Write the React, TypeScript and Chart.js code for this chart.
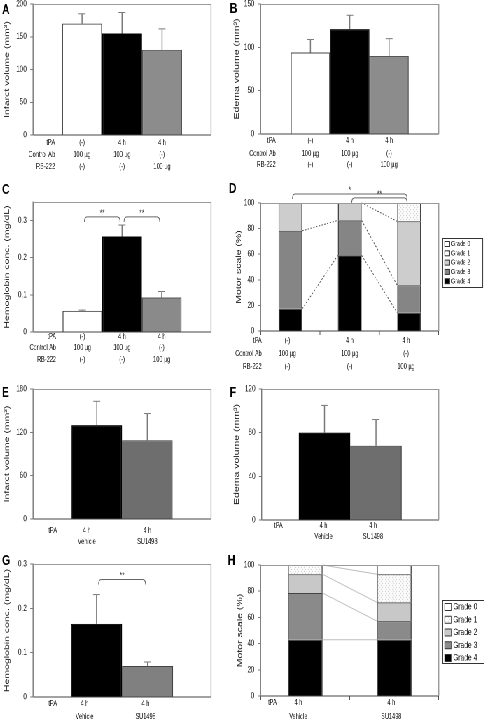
import React, { useEffect, useRef } from 'react';
import { Chart, registerables } from 'chart.js';

Chart.register(...registerables);

// The original figure is horizontally compressed; we lay it out wider and squeeze it.
const S = 0.7;
const FONT = "'Liberation Sans', Arial, Helvetica, sans-serif";
Chart.defaults.font.family = FONT;

// ---------------- data ----------------
const rowHeaders3 = ['tPA', 'Control Ab', 'RB-222'];
const tpaRow3 = ['(-)', '4 h', '4 h'];
const controlAbRow = ['100 µg', '100 µg', '(-)'];
const rb222Row = ['(-)', '(-)', '100 µg'];
const groups3 = ['Control Ab', 'tPA + Control Ab', 'tPA + RB-222'];

const infarctA = [170, 155, 130];
const infarctAErr = [15, 32, 32];
const edemaB = [94, 121, 90];
const edemaBErr = [15, 16, 20];
const hemoC = [0.057, 0.257, 0.093];
const hemoCErr = [0.002, 0.031, 0.016];

const motorDGrade4 = [17.4, 59.1, 14.3];
const motorDGrade3 = [60.9, 27.3, 21.4];
const motorDGrade2 = [21.7, 13.6, 50.0];
const motorDGrade1 = [0, 0, 14.3];
const motorDGrade0 = [0, 0, 0];

const rowHeaders2 = ['tPA', ''];
const tpaRow2 = ['4 h', '4 h'];
const drugRow = ['Vehicle', 'SU1498'];
const groups2 = ['Vehicle', 'SU1498'];

const infarctE = [130, 109];
const infarctEErr = [33, 37];
const edemaF = [80, 68];
const edemaFErr = [25, 24];
const hemoG = [0.165, 0.07];
const hemoGErr = [0.066, 0.009];

const motorHGrade4 = [42.9, 42.9];
const motorHGrade3 = [35.7, 14.3];
const motorHGrade2 = [14.3, 14.3];
const motorHGrade1 = [7.1, 21.4];
const motorHGrade0 = [0, 7.1];

const gradeNames = ['Grade 4', 'Grade 3', 'Grade 2', 'Grade 1', 'Grade 0'];

// ---------------- panel specs ----------------
type Area = { left: number; right: number; top: number; bottom: number };
type Bracket = { from: number; to: number; level: number; label: string };
type Spec = {
  id: string; letter: string; letterAt: [number, number];
  x0: number; y0: number; w: number; h: number; area: Area;
  yTitle: string; yTitleX: number; yMax: number; yStep: number;
  kind: 'grouped' | 'stacked';
  values?: number[]; errors?: number[]; colors?: string[]; borders?: string[]; names?: string[];
  cats?: string[]; stacks?: { label: string; data: number[]; color: string }[];
  seriesLine?: { color: string; dash: number[] };
  legend?: { top: number; width: number; height: number; first: number; step: number; font: number; sw: number };
  barFrac: number;
  rowHeaders: string[]; rows: string[][]; rowDy: number[]; headerRight: number; colShift: number[];
  brackets?: Bracket[];
  xTicks?: boolean;
};

const stacksD = [
  { label: gradeNames[0], data: motorDGrade4, color: '#000000' },
  { label: gradeNames[1], data: motorDGrade3, color: '#858585' },
  { label: gradeNames[2], data: motorDGrade2, color: '#cdcdcd' },
  { label: gradeNames[3], data: motorDGrade1, color: 'dots' },
  { label: gradeNames[4], data: motorDGrade0, color: '#ffffff' },
];
const stacksH = [
  { label: gradeNames[0], data: motorHGrade4, color: '#000000' },
  { label: gradeNames[1], data: motorHGrade3, color: '#8a8a8a' },
  { label: gradeNames[2], data: motorHGrade2, color: '#c8c8c8' },
  { label: gradeNames[3], data: motorHGrade1, color: 'dots' },
  { label: gradeNames[4], data: motorHGrade0, color: '#ffffff' },
];

const SPECS: Spec[] = [
  {
    id: 'A', letter: 'A', letterAt: [2, 14], x0: 0, y0: 0, w: 225, h: 180,
    area: { left: 33, right: 211, top: 4, bottom: 135 },
    yTitle: 'Infarct volume (mm³)', yTitleX: 7, yMax: 200, yStep: 50, kind: 'grouped',
    values: infarctA, errors: infarctAErr, names: groups3,
    colors: ['#ffffff', '#000000', '#8c8c8c'], borders: ['#444444', '#000000', '#555555'],
    barFrac: 120 / 178, rowHeaders: rowHeaders3, rows: [tpaRow3, controlAbRow, rb222Row],
    rowDy: [8, 20, 32], headerRight: 55, colShift: [0, 0, 0],
  },
  {
    id: 'B', letter: 'B', letterAt: [230, 13], x0: 225, y0: 0, w: 260, h: 180,
    area: { left: 261, right: 439, top: 4, bottom: 134 },
    yTitle: 'Edema volume (mm³)', yTitleX: 237, yMax: 150, yStep: 50, kind: 'grouped',
    values: edemaB, errors: edemaBErr, names: groups3,
    colors: ['#ffffff', '#000000', '#8c8c8c'], borders: ['#444444', '#000000', '#555555'],
    barFrac: 118 / 178, rowHeaders: rowHeaders3, rows: [tpaRow3, controlAbRow, rb222Row],
    rowDy: [7, 20, 31], headerRight: 276, colShift: [0, 0, 0],
  },
  {
    id: 'C', letter: 'C', letterAt: [2, 194], x0: 0, y0: 180, w: 225, h: 192,
    area: { left: 33, right: 211, top: 202, bottom: 332 },
    yTitle: 'Hemoglobin conc. (mg/dL)', yTitleX: 7, yMax: 0.35, yStep: 0.1, kind: 'grouped',
    values: hemoC, errors: hemoCErr, names: groups3,
    colors: ['#ffffff', '#000000', '#8a8a8a'], borders: ['#444444', '#000000', '#555555'],
    barFrac: 119 / 178, rowHeaders: rowHeaders3, rows: [tpaRow3, controlAbRow, rb222Row],
    rowDy: [5, 16, 28], headerRight: 56, colShift: [0, 0, 0],
    brackets: [
      { from: 0, to: 1, level: 0.31, label: '**' },
      { from: 1, to: 2, level: 0.31, label: '**' },
    ],
  },
  {
    id: 'D', letter: 'D', letterAt: [229, 193], x0: 225, y0: 180, w: 260, h: 192,
    area: { left: 261, right: 439, top: 203, bottom: 331 },
    yTitle: 'Motor scale (%)', yTitleX: 239, yMax: 100, yStep: 20, kind: 'stacked',
    cats: groups3, stacks: stacksD, barFrac: 0.4,
    seriesLine: { color: '#555555', dash: [2, 2] },
    legend: { top: 35, width: 40, height: 49, first: 6, step: 9.3, font: 7.5, sw: 5 },
    rowHeaders: rowHeaders3, rows: [tpaRow3, controlAbRow, rb222Row],
    rowDy: [10, 23, 36], headerRight: 262, colShift: [-3, 0, -3],
    brackets: [
      { from: 0, to: 2, level: 107, label: '*' },
      { from: 1, to: 2, level: 104, label: '**' },
    ],
    xTicks: true,
  },
  {
    id: 'E', letter: 'E', letterAt: [2, 397], x0: 0, y0: 372, w: 225, h: 178,
    area: { left: 33, right: 211, top: 389, bottom: 519 },
    yTitle: 'Infarct volume (mm³)', yTitleX: 7, yMax: 180, yStep: 60, kind: 'grouped',
    values: infarctE, errors: infarctEErr, names: groups2,
    colors: ['#000000', '#6e6e6e'], borders: ['#000000', '#444444'],
    barFrac: 101 / 178, rowHeaders: rowHeaders2, rows: [tpaRow2, drugRow],
    rowDy: [12, 23], headerRight: 57, colShift: [-10, 0],
  },
  {
    id: 'F', letter: 'F', letterAt: [230, 397], x0: 225, y0: 372, w: 260, h: 178,
    area: { left: 262, right: 439, top: 389, bottom: 520 },
    yTitle: 'Edema volume (mm³)', yTitleX: 237, yMax: 120, yStep: 40, kind: 'grouped',
    values: edemaF, errors: edemaFErr, names: groups2,
    colors: ['#000000', '#6e6e6e'], borders: ['#000000', '#444444'],
    barFrac: 103 / 177, rowHeaders: rowHeaders2, rows: [tpaRow2, drugRow],
    rowDy: [6, 17], headerRight: 283, colShift: [-1, -3],
  },
  {
    id: 'G', letter: 'G', letterAt: [2, 565], x0: 0, y0: 550, w: 225, h: 171,
    area: { left: 33, right: 211, top: 564, bottom: 697 },
    yTitle: 'Hemoglobin conc. (mg/dL)', yTitleX: 7, yMax: 0.3, yStep: 0.1, kind: 'grouped',
    values: hemoG, errors: hemoGErr, names: groups2,
    colors: ['#000000', '#808080'], borders: ['#000000', '#444444'],
    barFrac: 102 / 178, rowHeaders: rowHeaders2, rows: [tpaRow2, drugRow],
    rowDy: [7, 20], headerRight: 57, colShift: [-12, -2],
    brackets: [{ from: 0, to: 1, level: 0.265, label: '**' }],
  },
  {
    id: 'H', letter: 'H', letterAt: [228, 565], x0: 225, y0: 550, w: 260, h: 171,
    area: { left: 261, right: 439, top: 565, bottom: 696 },
    yTitle: 'Motor scale (%)', yTitleX: 240, yMax: 100, yStep: 20, kind: 'stacked',
    cats: groups2, stacks: stacksH, barFrac: 0.39,
    seriesLine: { color: '#bdbdbd', dash: [] },
    legend: { top: 35, width: 42, height: 63, first: 7, step: 12.75, font: 9.5, sw: 7 },
    rowHeaders: rowHeaders2, rows: [tpaRow2, drugRow],
    rowDy: [7, 21], headerRight: 277, colShift: [-7, -3],
    xTicks: true,
  },
];

function makeDots(ctx: CanvasRenderingContext2D): CanvasPattern | string {
  const c = document.createElement('canvas');
  c.width = 4; c.height = 4;
  const g = c.getContext('2d');
  if (!g) return '#f4f4f4';
  g.fillStyle = '#ffffff';
  g.fillRect(0, 0, 4, 4);
  g.fillStyle = '#b4b4b4';
  g.fillRect(1, 1, 1, 1);
  g.fillRect(3, 3, 1, 1);
  return ctx.createPattern(c, 'repeat') || '#f4f4f4';
}

function colXs(chart: any, sp: Spec): number[] {
  if (sp.kind === 'grouped') {
    return (sp.values || []).map((_, i) => chart.getDatasetMeta(i).data[0].x);
  }
  return chart.getDatasetMeta(0).data.map((el: any) => el.x);
}

function buildChart(canvas: HTMLCanvasElement, sp: Spec) {
  const ctx0 = canvas.getContext('2d') as CanvasRenderingContext2D;
  const dots = makeDots(ctx0);
  const W = Math.round(sp.w / S);
  const H = sp.h;
  const R = (sp.area.right - sp.x0) / S;
  const L = (sp.area.left - sp.x0) / S;
  const T = sp.area.top - sp.y0;
  const B = sp.area.bottom - sp.y0;
  const stacked = sp.kind === 'stacked';

  let labels: string[];
  let datasets: any[];
  if (!stacked) {
    labels = [''];
    datasets = (sp.values || []).map((v, i) => ({
      label: (sp.names || [])[i],
      data: [v],
      backgroundColor: (sp.colors || [])[i],
      borderColor: (sp.borders || [])[i],
      borderWidth: { top: 1, left: 1.4, right: 1.4, bottom: 0 },
      borderSkipped: 'start',
      barPercentage: 1,
      categoryPercentage: sp.barFrac,
    }));
  } else {
    labels = sp.cats || [];
    datasets = (sp.stacks || []).map((st) => ({
      label: st.label,
      data: st.data,
      backgroundColor: st.color === 'dots' ? dots : st.color,
      borderColor: '#444444',
      borderWidth: { top: 1, left: 1.4, right: 1.4, bottom: 0 },
      borderSkipped: 'start',
      barPercentage: sp.barFrac,
      categoryPercentage: 1,
      stack: 'motor',
    }));
  }

  const extras = {
    id: 'extras' + sp.id,
    afterDatasetsDraw(chart: any) {
      const ctx = chart.ctx as CanvasRenderingContext2D;
      const y = chart.scales.y;
      const top = chart.chartArea.top;
      ctx.save();
      if (!stacked) {
        (sp.values || []).forEach((v, i) => {
          const el = chart.getDatasetMeta(i).data[0];
          const x = el.x;
          const yV = y.getPixelForValue(v);
          const yT = y.getPixelForValue(v + (sp.errors || [])[i]);
          ctx.strokeStyle = '#7a7a7a';
          ctx.lineWidth = 1.5;
          ctx.beginPath(); ctx.moveTo(x, yV); ctx.lineTo(x, yT); ctx.stroke();
          ctx.lineWidth = 1;
          const cap = 3.5 / S;
          ctx.beginPath(); ctx.moveTo(x - cap, yT); ctx.lineTo(x + cap, yT); ctx.stroke();
        });
      } else if (sp.seriesLine) {
        ctx.strokeStyle = sp.seriesLine.color;
        ctx.lineWidth = 1;
        ctx.setLineDash(sp.seriesLine.dash);
        chart.data.datasets.forEach((_: any, d: number) => {
          const els = chart.getDatasetMeta(d).data;
          for (let i = 0; i < els.length - 1; i++) {
            const a = els[i];
            const b = els[i + 1];
            if (a.y <= top + 0.5 && b.y <= top + 0.5) continue; // hidden under the frame
            ctx.beginPath();
            ctx.moveTo(a.x + a.width / 2, a.y);
            ctx.lineTo(b.x - b.width / 2, b.y);
            ctx.stroke();
          }
        });
        ctx.setLineDash([]);
      }
      ctx.restore();
    },
    afterDraw(chart: any) {
      const ctx = chart.ctx as CanvasRenderingContext2D;
      const a = chart.chartArea;
      const y = chart.scales.y;
      ctx.save();
      // frame top / right
      ctx.strokeStyle = '#9a9a9a';
      ctx.lineWidth = 1;
      ctx.beginPath(); ctx.moveTo(a.left, a.top + 0.5); ctx.lineTo(a.right, a.top + 0.5); ctx.stroke();
      ctx.lineWidth = 1.4;
      ctx.beginPath(); ctx.moveTo(a.right, a.top); ctx.lineTo(a.right, a.bottom); ctx.stroke();

      const xs = colXs(chart, sp);

      // significance brackets
      (sp.brackets || []).forEach((br) => {
        const x1 = xs[br.from] + 2 / S;
        const x2 = xs[br.to] - 2 / S;
        const yy = y.getPixelForValue(br.level);
        const r = 3 / S;
        ctx.strokeStyle = '#666666';
        ctx.lineWidth = 1;
        ctx.beginPath();
        ctx.moveTo(x1, yy + 5);
        ctx.quadraticCurveTo(x1, yy, x1 + r, yy);
        ctx.lineTo(x2 - r, yy);
        ctx.quadraticCurveTo(x2, yy, x2, yy + 5);
        ctx.stroke();
        ctx.fillStyle = '#333333';
        ctx.font = `9px ${FONT}`;
        ctx.textAlign = 'center';
        ctx.textBaseline = 'bottom';
        ctx.fillText(br.label, (x1 + x2) / 2, yy + 1);
      });

      // condition rows under the axis
      ctx.fillStyle = '#111111';
      ctx.font = `8px ${FONT}`;
      ctx.textBaseline = 'middle';
      sp.rows.forEach((row, r) => {
        const yy = a.bottom + sp.rowDy[r];
        if (sp.rowHeaders[r]) {
          ctx.textAlign = 'right';
          ctx.fillText(sp.rowHeaders[r], (sp.headerRight - sp.x0) / S, yy);
        }
        ctx.textAlign = 'center';
        row.forEach((t, i) => ctx.fillText(t, xs[i] + sp.colShift[i] / S, yy));
      });

      // panel letter
      ctx.fillStyle = '#000000';
      ctx.font = `bold 15px ${FONT}`;
      ctx.textAlign = 'left';
      ctx.textBaseline = 'alphabetic';
      ctx.fillText(sp.letter, (sp.letterAt[0] - sp.x0) / S, sp.letterAt[1] - sp.y0);

      // legend box
      if (sp.legend) {
        const lg = sp.legend;
        const left = a.right + 4 / S;
        const top = a.top + lg.top;
        ctx.fillStyle = '#ffffff';
        ctx.fillRect(left, top, lg.width / S, lg.height);
        ctx.strokeStyle = '#333333';
        ctx.lineWidth = 1;
        ctx.strokeRect(left, top + 0.5, lg.width / S, lg.height);
        const items = [...chart.data.datasets].reverse();
        ctx.font = `${lg.font}px ${FONT}`;
        ctx.textBaseline = 'middle';
        ctx.textAlign = 'left';
        items.forEach((ds: any, k: number) => {
          const cy = top + lg.first + k * lg.step;
          const sx = left + 2 / S;
          ctx.fillStyle = ds.backgroundColor;
          ctx.fillRect(sx, cy - lg.sw / 2, lg.sw / S, lg.sw);
          ctx.strokeStyle = '#333333';
          ctx.strokeRect(sx, cy - lg.sw / 2, lg.sw / S, lg.sw);
          ctx.fillStyle = '#111111';
          ctx.fillText(ds.label, sx + (lg.sw + 1.5) / S, cy);
        });
      }
      ctx.restore();
    },
  };

  return new Chart(canvas, {
    type: 'bar',
    data: { labels, datasets },
    options: {
      responsive: false,
      animation: false,
      devicePixelRatio: 2,
      events: [],
      layout: { autoPadding: false, padding: { left: 0, top: T, right: W - R, bottom: 0 } },
      plugins: { legend: { display: false }, tooltip: { enabled: false }, title: { display: false } },
      scales: {
        x: {
          type: 'category',
          stacked,
          offset: true,
          grid: {
            display: !!sp.xTicks, drawOnChartArea: false, drawTicks: true,
            tickLength: 4, color: '#555555', offset: true,
          },
          border: { display: true, color: '#444444', width: 1 },
          ticks: { display: false },
          afterFit: (s: any) => { s.height = H - B; s.paddingLeft = 0; s.paddingRight = 0; },
        },
        y: {
          stacked,
          min: 0,
          max: sp.yMax,
          ticks: {
            stepSize: sp.yStep, includeBounds: false,
            font: { size: 9, family: FONT }, color: '#222222', padding: 5,
          },
          grid: { drawOnChartArea: false, drawTicks: true, tickLength: 4, color: '#777777' },
          border: { display: true, color: '#777777', width: 1.4 },
          title: {
            display: true, text: sp.yTitle, color: '#1a1a1a',
            font: { size: 10.5, family: FONT },
            padding: { top: (sp.yTitleX - sp.x0) / S - 6.3, bottom: 0 },
          },
          afterFit: (s: any) => { s.width = L; s.paddingTop = 0; s.paddingBottom = 0; },
        },
      },
    } as any,
    plugins: [extras as any],
  });
}

export default function App() {
  const refs = useRef<(HTMLCanvasElement | null)[]>([]);
  useEffect(() => {
    document.body.style.overflow = 'hidden';
    const charts = SPECS.map((sp, i) => buildChart(refs.current[i] as HTMLCanvasElement, sp));
    return () => charts.forEach((c) => c.destroy());
  }, []);
  return (
    <div
      style={{
        position: 'absolute', left: 0, top: 0, width: 485 / S, height: 721,
        transform: `scaleX(${S})`, transformOrigin: '0 0', background: '#ffffff', overflow: 'hidden',
      }}
    >
      {SPECS.map((sp, i) => (
        <canvas
          key={sp.id}
          ref={(el) => { refs.current[i] = el; }}
          width={Math.round(sp.w / S)}
          height={sp.h}
          style={{
            position: 'absolute', left: sp.x0 / S, top: sp.y0,
            width: Math.round(sp.w / S), height: sp.h,
          }}
        />
      ))}
    </div>
  );
}
